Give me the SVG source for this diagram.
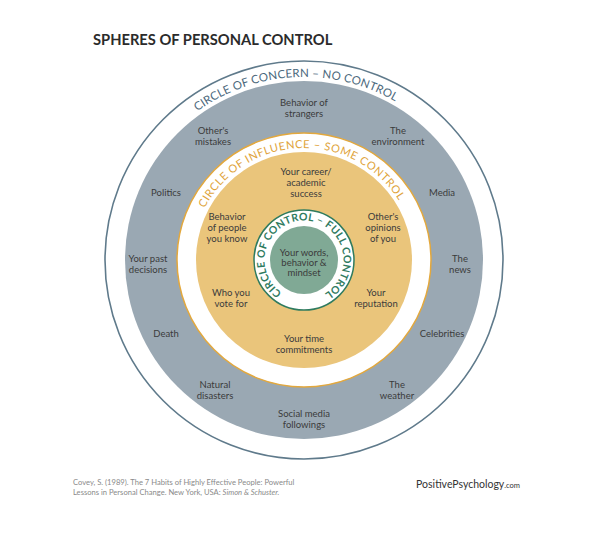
<svg xmlns="http://www.w3.org/2000/svg" width="589" height="539" viewBox="0 0 589 539">
<style>
.t{font-family:Lato,"Liberation Sans",sans-serif;font-size:9.5px;fill:#3b3b3b;text-anchor:middle}
.ring{font-family:Lato,"Liberation Sans",sans-serif;text-anchor:middle}
</style>
<defs>
<path id="pConcern" d="M304,443 A183,183 0 1 1 304,77 A183,183 0 1 1 304,443"/>
<path id="pInfl" d="M304,372 A112,112 0 1 1 304,148 A112,112 0 1 1 304,372"/>
<path id="pCtrl" d="M304,299.5 A39.5,39.5 0 1 1 304,220.5 A39.5,39.5 0 1 1 304,299.5"/>
</defs>
<rect width="589" height="539" fill="#ffffff"/>
<text x="93" y="45" font-family="Lato,'Liberation Sans',sans-serif" font-weight="700" font-size="14.7" fill="#2b2b2b">SPHERES OF PERSONAL CONTROL</text>

<g id="concern">
<circle cx="304" cy="260" r="199" fill="#ffffff" stroke="#5f7a8b" stroke-width="1.6"/>
<circle cx="304" cy="260" r="179" fill="#9aa8b3"/>
<text class="ring" font-size="11.5" letter-spacing="0.2" fill="#4b687c"><textPath href="#pConcern" startOffset="49.2%">CIRCLE OF CONCERN  –  NO CONTROL</textPath></text>
<text class="t"><tspan x="304" y="106">Behavior of</tspan><tspan x="304" y="117">strangers</tspan></text>
<text class="t"><tspan x="213" y="134">Other's</tspan><tspan x="213" y="145">mistakes</tspan></text>
<text class="t"><tspan x="398" y="134">The</tspan><tspan x="398" y="145">environment</tspan></text>
<text class="t"><tspan x="166" y="196">Politics</tspan></text>
<text class="t"><tspan x="442" y="196">Media</tspan></text>
<text class="t"><tspan x="148" y="262">Your past</tspan><tspan x="148" y="273">decisions</tspan></text>
<text class="t"><tspan x="460" y="262">The</tspan><tspan x="460" y="273">news</tspan></text>
<text class="t"><tspan x="166" y="337">Death</tspan></text>
<text class="t"><tspan x="442" y="337">Celebrities</tspan></text>
<text class="t"><tspan x="215" y="388">Natural</tspan><tspan x="215" y="399">disasters</tspan></text>
<text class="t"><tspan x="397" y="388">The</tspan><tspan x="397" y="399">weather</tspan></text>
<text class="t"><tspan x="304" y="417">Social media</tspan><tspan x="304" y="428">followings</tspan></text>
</g>

<g id="influence">
<circle cx="304" cy="260" r="127" fill="#ffffff" stroke="#e3a83d" stroke-width="1.5"/>
<circle cx="304" cy="260" r="108" fill="#eac57b"/>
<text class="ring" font-size="11" letter-spacing="0.6" fill="#e0a43a"><textPath href="#pInfl" startOffset="49.4%">CIRCLE OF INFLUENCE  –  SOME CONTROL</textPath></text>
<text class="t"><tspan x="306" y="175">Your career/</tspan><tspan x="306" y="186">academic</tspan><tspan x="306" y="197">success</tspan></text>
<text class="t"><tspan x="227" y="220">Behavior</tspan><tspan x="227" y="231">of people</tspan><tspan x="227" y="242">you know</tspan></text>
<text class="t"><tspan x="383" y="220">Other's</tspan><tspan x="383" y="231">opinions</tspan><tspan x="383" y="242">of you</tspan></text>
<text class="t"><tspan x="231" y="296">Who you</tspan><tspan x="231" y="307">vote for</tspan></text>
<text class="t"><tspan x="376" y="296">Your</tspan><tspan x="376" y="307">reputation</tspan></text>
<text class="t"><tspan x="304" y="342">Your time</tspan><tspan x="304" y="353">commitments</tspan></text>
</g>

<g id="control">
<circle cx="304" cy="260" r="50" fill="#ffffff" stroke="#2f7b5f" stroke-width="1.5"/>
<circle cx="304" cy="260" r="34" fill="#80a995"/>
<text class="ring" font-size="10.5" font-weight="700" letter-spacing="0.3" fill="#2f7b5f"><textPath href="#pCtrl" startOffset="50.4%">CIRCLE OF CONTROL – FULL CONTROL</textPath></text>
<text class="t"><tspan x="304" y="256">Your words,</tspan><tspan x="304" y="266">behavior &amp;</tspan><tspan x="304" y="276">mindset</tspan></text>
</g>

<g id="footer" font-family="Lato,'Liberation Sans',sans-serif">
<text font-size="7.6" fill="#8a8a8a"><tspan x="73" y="485">Covey, S. (1989). The 7 Habits of Highly Effective People: Powerful</tspan><tspan x="73" y="495">Lessons in Personal Change. New York, USA: <tspan font-style="italic">Simon &amp; Schuster.</tspan></tspan></text>
<text x="520" y="488" text-anchor="end" font-size="10.5" fill="#333333">PositivePsychology<tspan font-size="7.5">.com</tspan></text>
</g>
</svg>
